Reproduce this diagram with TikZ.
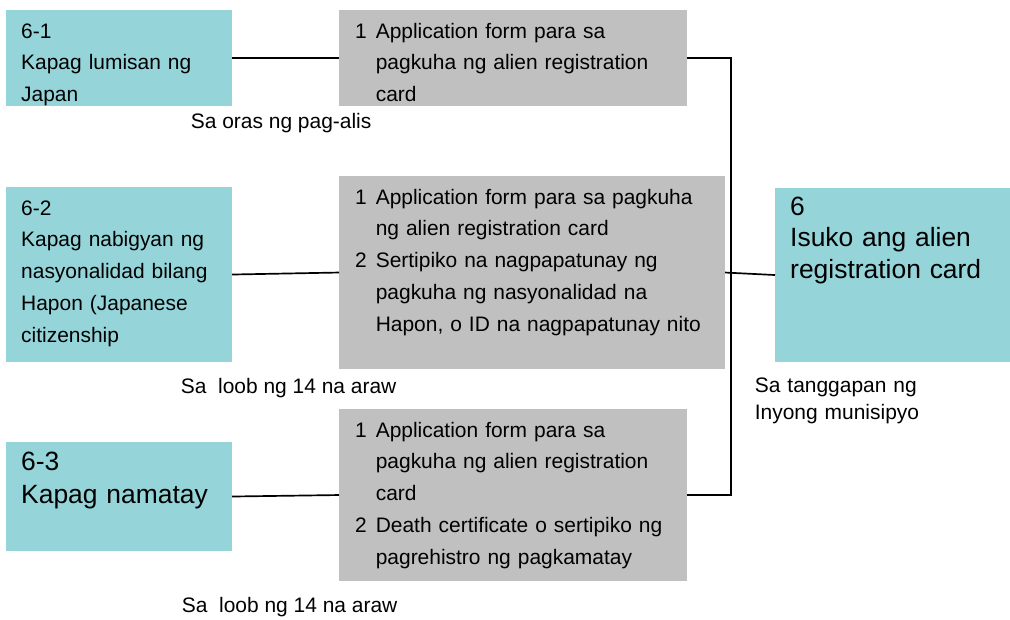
\documentclass[tikz,border=0pt]{standalone}
\usepackage{fontspec}
\setmainfont{Liberation Sans}
\usetikzlibrary{positioning}
\definecolor{casecyan}{RGB}{149,213,218}
\definecolor{docgrey}{RGB}{192,192,192}

\begin{document}
\begin{tikzpicture}
% Style
[
    x=0.025cm, y=-0.025cm, line width=1.2pt,
    base/.style={anchor=north west, inner ysep=0pt, outer sep=0pt, align=left},
    case/.style={base, fill=casecyan, inner xsep=.38cm, text width=4.89cm,
        font=\fontsize{14.9}{22.6}\selectfont},
    bigcase/.style={case, font=\fontsize{18.8}{23.5}\selectfont},
    docs/.style={base, fill=docgrey, inner xsep=.4cm,
        font=\fontsize{14.9}{22.6}\selectfont},
    when/.style={anchor=base west, inner sep=0pt, align=left,
        font=\fontsize{14.9}{19.2}\selectfont}
]
\useasboundingbox (0,0) rectangle (1010,619);

%=================================== Start ===================================
{
    % cases on the left
    \node[case, text height=.7cm, text depth=1.7cm] (case-1) at (6,10)
        {6-1\\Kapag lumisan ng\\Japan};
    \node[case, text height=.7cm, text depth=3.675cm] (case-2) at (6,187)
        {6-2\\Kapag nabigyan ng\\nasyonalidad bilang\\Hapon (Japanese\\citizenship};
    \node[bigcase, text height=.7cm, text depth=2.025cm] (case-3) at (6,442)
        {6-3\\Kapag namatay};

    % documents
    \node[docs, text width=7.9cm, text height=.7cm, text depth=1.7cm] (docs-1) at (339,10)
        {\begin{tabular}[t]{@{}l@{\hspace{6.5pt}}l@{}}
            1 & Application form para sa\\
              & pagkuha ng alien registration\\
              & card
        \end{tabular}};
    \node[docs, text width=8.85cm, text height=.7cm, text depth=4.125cm] (docs-2) at (339,176)
        {\begin{tabular}[t]{@{}l@{\hspace{6.5pt}}l@{}}
            1 & Application form para sa pagkuha\\
              & ng alien registration card\\
            2 & Sertipiko na nagpapatunay ng\\
              & pagkuha ng nasyonalidad na\\
              & Hapon, o ID na nagpapatunay nito
        \end{tabular}};
    \node[docs, text width=7.9cm, text height=.7cm, text depth=3.6cm] (docs-3) at (339,409)
        {\begin{tabular}[t]{@{}l@{\hspace{6.5pt}}l@{}}
            1 & Application form para sa\\
              & pagkuha ng alien registration\\
              & card\\
            2 & Death certificate o sertipiko ng\\
              & pagrehistro ng pagkamatay
        \end{tabular}};

    % goal
    \node[bigcase, text width=5.115cm, text height=.675cm, text depth=3.675cm,
        font=\fontsize{18.8}{22.4}\selectfont] (goal) at (775,188)
        {6\\Isuko ang alien\\registration card};

    % time and place
    \node[when] (when-1) at (190,128) {Sa oras ng pag-alis};
    \node[when] (when-2) at (180,393) {Sa\ \ loob ng 14 na araw};
    \node[when] (when-3) at (181,612) {Sa\ \ loob ng 14 na araw};
    \node[when, text width=5cm] (where) at (754,392) {Sa tanggapan ng\\Inyong munisipyo};

    % connectors
    \foreach \i in {1,2,3} {
        \draw (case-\i.east) -- (docs-\i.west);
    }
    \coordinate (bus) at (731,0);
    \draw (docs-1.east) -- (docs-1.east -| bus) -- (docs-3.east -| bus) -- (docs-3.east);
    \draw (docs-2.east) -- (goal.west);
}
%==================================== END ====================================

\end{tikzpicture}
\end{document}
